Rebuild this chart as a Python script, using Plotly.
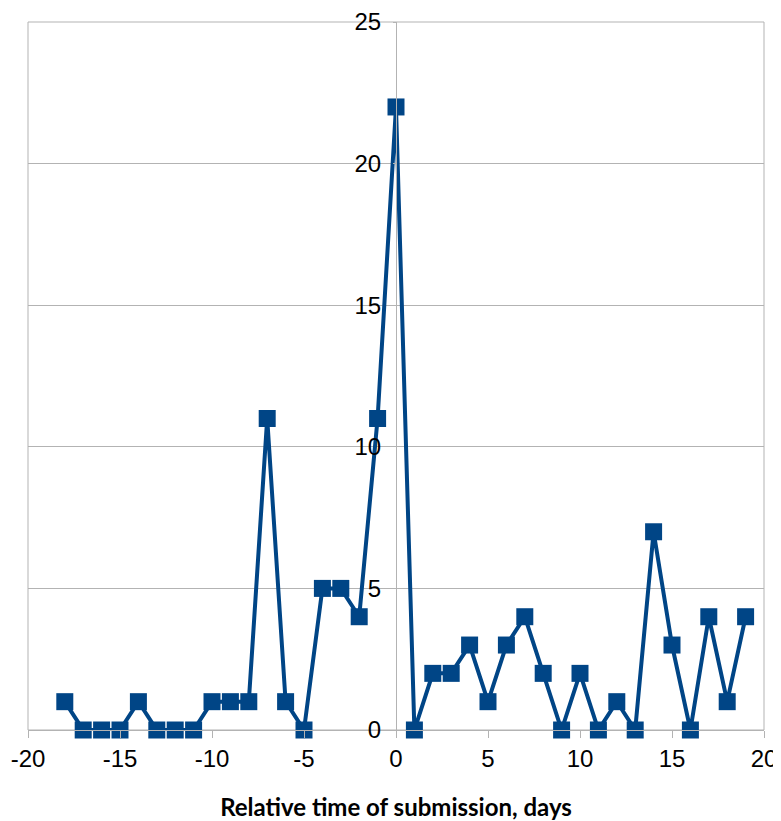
import plotly.graph_objects as go

days = list(range(-18, 20))
counts = [1, 0, 0, 0, 1, 0, 0, 0, 1, 1, 1, 11, 1, 0, 5, 5, 4, 11, 22,
          0, 2, 2, 3, 1, 3, 4, 2, 0, 2, 0, 1, 0, 7, 3, 0, 4, 1, 4]
x_ticks = [-20, -15, -10, -5, 0, 5, 10, 15, 20]
x_tick_labels = ["-20", "-15", "-10", "-5", "0", "5", "10", "15", "20"]
y_ticks = [0, 5, 10, 15, 20, 25]
x_title = "Relative time of submission, days"

BLUE = "#004586"
GRID = "#b3b3b3"

fig = go.Figure()
fig.add_trace(go.Scatter(
    x=days, y=counts, mode="lines+markers",
    line=dict(color=BLUE, width=4),
    marker=dict(symbol="square", size=17, color=BLUE),
    showlegend=False, cliponaxis=False,
))

fig.add_shape(type="rect", xref="paper", yref="paper", x0=0, x1=1, y0=0, y1=1,
              line=dict(color=GRID, width=1), layer="below")

fig.update_layout(
    width=773, height=813,
    margin=dict(l=20, r=17, t=14, b=91),
    paper_bgcolor="white", plot_bgcolor="white",
    font=dict(family="Liberation Sans, Arial", size=24, color="black"),
    xaxis=dict(
        range=[-20, 20], tickvals=x_ticks, ticktext=x_tick_labels,
        showgrid=False, zeroline=False,
        showline=True, linecolor=GRID, linewidth=1, automargin=False,
        ticks="outside", ticklen=7, tickcolor=GRID,
        title=dict(text=x_title, font=dict(family="Lato, Open Sans", size=24, weight="bold"), standoff=29),
    ),
    yaxis=dict(
        range=[0, 25], tickvals=y_ticks, showgrid=True, gridcolor=GRID, gridwidth=1,
        zeroline=False, showline=True, linecolor=GRID, linewidth=1, automargin=False,
        anchor="free", position=0.5, ticks="outside", ticklen=3, tickcolor=GRID,
        ticklabelstandoff=7,
    ),
)

fig.write_html("out.html")
